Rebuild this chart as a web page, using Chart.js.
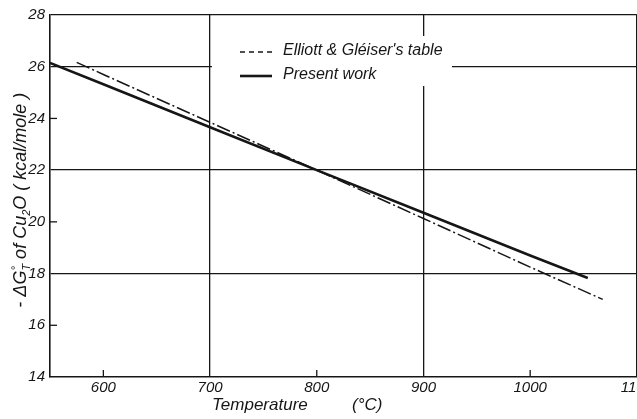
<!DOCTYPE html>
<html>
<head>
<meta charset="utf-8">
<script src="https://cdn.jsdelivr.net/npm/chart.js@4"></script>
<style>
  html, body { margin: 0; padding: 0; background: #fff; overflow: hidden; }
  #wrap { width: 637px; height: 419px; overflow: hidden; }
</style>
</head>
<body>
<div id="wrap"><canvas id="chart" width="655" height="419"></canvas></div>
<script>
// temperatures (°C) and -ΔG°T of Cu2O (kcal/mole)
const tempPresent = [550, 600, 700, 800, 900, 1000, 1054];
const present = [26.15, 25.32, 23.66, 22.0, 20.35, 18.7, 17.83];
const tempElliott = [575, 600, 700, 800, 900, 1000, 1068];
const elliott = [26.17, 25.7, 23.85, 22.0, 20.13, 18.25, 17.0];

const xTicks = [600, 700, 800, 900, 1000, 1100];
const yTicks = [14, 16, 18, 20, 22, 24, 26, 28];
const xGrid = [700, 900, 1100];
const yGrid = [18, 22, 26, 28];

const ink = '#161616';
const tickFont = { family: "'Liberation Sans Narrow', 'Liberation Sans', sans-serif", size: 15, style: 'italic' };

function pts(xs, ys) {
    return xs.map((x, i) => ({ x: x, y: ys[i] }));
}

// short inward tick marks + axis titles + legend box
const decor = {
    id: 'decor',
    afterDraw(chart) {
        const c = chart.ctx, a = chart.chartArea;
        const sx = chart.scales.x, sy = chart.scales.y;
        c.save();
        c.strokeStyle = ink;
        c.lineWidth = 1.3;
        sx.ticks.forEach(t => {
            if (xGrid.includes(t.value)) return;
            const px = sx.getPixelForValue(t.value);
            c.beginPath(); c.moveTo(px, a.bottom); c.lineTo(px, a.bottom - 7); c.stroke();
        });
        sy.ticks.forEach(t => {
            if (yGrid.includes(t.value) || t.value === 14) return;
            const py = sy.getPixelForValue(t.value);
            c.beginPath(); c.moveTo(a.left, py); c.lineTo(a.left + 7, py); c.stroke();
        });

        // legend
        c.fillStyle = '#fff';
        c.fillRect(212, 36, 240, 50);
        c.fillStyle = ink;
        c.font = "italic 16px 'Liberation Sans Narrow', 'Liberation Sans', sans-serif";
        c.textBaseline = 'middle';
        const ds = chart.data.datasets;
        ds.forEach((d, i) => {
            const y = 52 + i * 24;
            c.setLineDash(d.legendDash);
            c.lineWidth = d.borderWidth;
            c.beginPath(); c.moveTo(240, y); c.lineTo(272, y); c.stroke();
            c.setLineDash([]);
            c.fillText(d.label, 283, y - 1);
        });

        // x title
        c.font = "italic 17px 'Liberation Sans Narrow', 'Liberation Sans', sans-serif";
        c.textBaseline = 'alphabetic';
        c.fillText('Temperature', 212, 410);
        c.fillText('(°C)', 352, 410);

        // y title with sub/superscripts
        c.translate(20, 198);
        c.rotate(-Math.PI / 2);
        const big = "italic 18px 'Liberation Sans Narrow', 'Liberation Sans', sans-serif";
        const small = "italic 11px 'Liberation Sans Narrow', 'Liberation Sans', sans-serif";
        const parts = [
            ['- ΔG', big, 0], ['°', small, -7], ['T', small, 4],
            [' of Cu', big, 0], ['2', small, 4], ['O ( kcal/mole )', big, 0]
        ];
        let w = 0;
        parts.forEach(p => { c.font = p[1]; w += c.measureText(p[0]).width; });
        let x = -w / 2;
        parts.forEach(p => {
            c.font = p[1];
            c.fillText(p[0], x, 6 + p[2]);
            if (p[0] === '°') return; // subscript T sits under the degree sign
            x += c.measureText(p[0]).width;
        });
        c.restore();
    }
};

new Chart(document.getElementById('chart'), {
    type: 'scatter',
    data: {
        datasets: [
            {
                label: "Elliott & Gléiser's table",
                data: pts(tempElliott, elliott),
                showLine: true,
                borderColor: ink,
                borderWidth: 1.5,
                borderDash: [14, 3, 2, 3],
                legendDash: [5, 4],
                pointRadius: 0,
                fill: false,
            },
            {
                label: 'Present work',
                data: pts(tempPresent, present),
                showLine: true,
                borderColor: ink,
                borderWidth: 2.6,
                legendDash: [],
                pointRadius: 0,
                fill: false,
            },
        ],
    },
    options: {
        responsive: false,
        animation: false,
        layout: { autoPadding: false, padding: { top: 15, right: 1, left: 0, bottom: 0 } },
        plugins: { legend: { display: false }, tooltip: { enabled: false } },
        scales: {
            x: {
                type: 'linear',
                min: 550,
                max: 1100,
                ticks: { stepSize: 100, color: ink, font: tickFont, padding: 2, callback: v => String(v) },
                afterBuildTicks: s => { s.ticks = s.ticks.filter(t => xTicks.includes(t.value)); },
                afterFit: s => { s.height = 42; },
                grid: {
                    drawTicks: false,
                    lineWidth: 1.3,
                    color: c => xGrid.includes(c.tick && c.tick.value) ? ink : 'rgba(0,0,0,0)',
                },
                border: { color: ink, width: 1.6 },
            },
            y: {
                type: 'linear',
                min: 14,
                max: 28,
                ticks: { stepSize: 2, color: ink, font: tickFont, padding: 5 },
                afterBuildTicks: s => { s.ticks = s.ticks.filter(t => yTicks.includes(t.value)); },
                afterFit: s => { s.width = 50; },
                grid: {
                    drawTicks: false,
                    lineWidth: 1.3,
                    color: c => yGrid.includes(c.tick && c.tick.value) ? ink : 'rgba(0,0,0,0)',
                },
                border: { color: ink, width: 1.6 },
            },
        },
    },
    plugins: [decor],
});
</script>
</body>
</html>
